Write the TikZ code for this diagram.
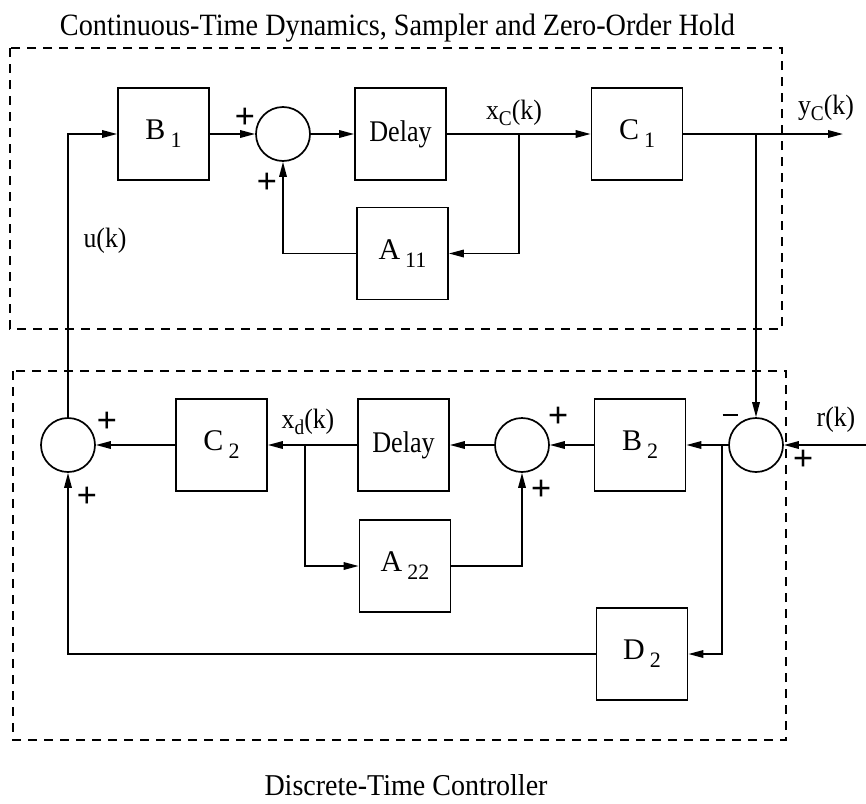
\documentclass[tikz,border=0pt]{standalone}
\usepackage{fontspec}
\setmainfont{Liberation Serif}
\usepackage{graphicx}
\usetikzlibrary{arrows.meta}
\newcommand\blkfont{\fontsize{30}{32}\selectfont}
\newcommand\sigfont{\fontsize{28}{30}\selectfont}
\newcommand\sgnfont{\fontsize{36}{38}\selectfont\bfseries}
\newcommand\bsub[2]{#1\,\raisebox{-8pt}{\fontsize{22}{22}\selectfont #2}}
\newcommand\ssub[3]{\scalebox{0.92}[1]{#1\raisebox{-6pt}{\fontsize{21}{21}\selectfont #2}(#3)}}
\tikzset{
  blk/.style={draw, line width=1.7pt, minimum width=91pt, minimum height=92pt, inner sep=0pt, font=\blkfont},
  sumc/.style={draw, circle, line width=1.7pt, minimum size=54pt, inner sep=0pt},
  wire/.style={line width=1.7pt},
  arr/.style={wire, -{Triangle[length=15pt,width=7.5pt]}},
  grp/.style={draw, line width=1.7pt, dash pattern=on 9pt off 7pt},
  sig/.style={font=\sigfont, inner sep=0pt},
  sgn/.style={font=\sgnfont, inner sep=0pt},
}
\begin{document}
\begin{tikzpicture}[x=1pt,y=-1pt]
\useasboundingbox[fill=white] (0,0) rectangle (866,803);
% group frames
\draw[grp] (10,48) rectangle (782,329);
\draw[grp] (13,371) rectangle (786,740);
% titles
\node[anchor=base, inner sep=0pt] (t1) at (397.5,35) {\resizebox{675pt}{21.5pt}{Continuous-Time Dynamics, Sampler and Zero-Order Hold}};
\node[anchor=base, inner sep=0pt] (t2) at (406,795) {\resizebox{283pt}{21pt}{Discrete-Time Controller}};
% upper blocks
\node[blk] (B1) at (163.5,134) {\bsub{B}{1}};
\node[sumc] (s1) at (283,134) {};
\node[blk] (D1) at (400.5,134) {\scalebox{0.87}[1]{Delay}};
\node[blk] (A11) at (402.5,253.5) {\bsub{A}{11}};
\node[blk] (C1) at (637,134) {\bsub{C}{1}};
% lower blocks
\node[sumc] (s3) at (68,445) {};
\node[blk] (C2) at (221.5,445) {\bsub{C}{2}};
\node[blk] (D2) at (403.5,445) {\scalebox{0.87}[1]{Delay}};
\node[sumc] (s2) at (522,445) {};
\node[blk] (A22) at (405,566) {\bsub{A}{22}};
\node[blk] (B2) at (640,445) {\bsub{B}{2}};
\node[sumc] (s4) at (756,445) {};
\node[blk] (Dd) at (642,654) {\bsub{D}{2}};
% junctions / free ends
\coordinate (jx) at (519,134);
\coordinate (jy) at (756,134);
\coordinate (yout) at (843,134);
\coordinate (rin) at (866,445);
\coordinate (ju) at (722,445);
\coordinate (jxd) at (305,445);
% upper connectors
\draw[arr] (s3.north) |- (B1.west);
\draw[arr] (B1.east) -- (s1.west);
\draw[arr] (s1.east) -- (D1.west);
\draw[arr] (D1.east) -- (C1.west);
\draw[arr] (jx) |- (A11.east);
\draw[arr] (A11.west) -| (s1.south);
\draw[arr] (C1.east) -- (yout);
\draw[arr] (jy) -- (s4.north);
% lower connectors
\draw[arr] (rin) -- (s4.east);
\draw[arr] (s4.west) -- (B2.east);
\draw[arr] (B2.west) -- (s2.east);
\draw[arr] (s2.west) -- (D2.east);
\draw[arr] (D2.west) -- (C2.east);
\draw[arr] (C2.west) -- (s3.east);
\draw[arr] (jxd) |- (A22.west);
\draw[arr] (A22.east) -| (s2.south);
\draw[arr] (ju) |- (Dd.east);
\draw[arr] (Dd.west) -| (s3.south);
% signal labels
\node[sig] (lu) at (105,241) {\scalebox{0.92}[1]{u(k)}};
\node[sig] (lxc) at (514,113) {\ssub{x}{C}{k}};
\node[sig] (lyc) at (826,108) {\ssub{y}{C}{k}};
\node[sig] (lxd) at (308,422) {\ssub{x}{d}{k}};
\node[sig] (lr) at (836,420) {\scalebox{0.92}[1]{r(k)}};
% signs
\node[sgn] (p1) at (245,118) {+};
\node[sgn] (p2) at (267,183) {+};
\node[sgn] (p3) at (107,422) {+};
\node[sgn] (p4) at (87,497) {+};
\node[sgn] (p5) at (558,417) {+};
\node[sgn] (p6) at (541,490) {+};
\node[sgn] (m1) at (730,415) {\rule{15pt}{2.2pt}};
\node[sgn] (p7) at (803,460) {+};
\end{tikzpicture}
\end{document}
